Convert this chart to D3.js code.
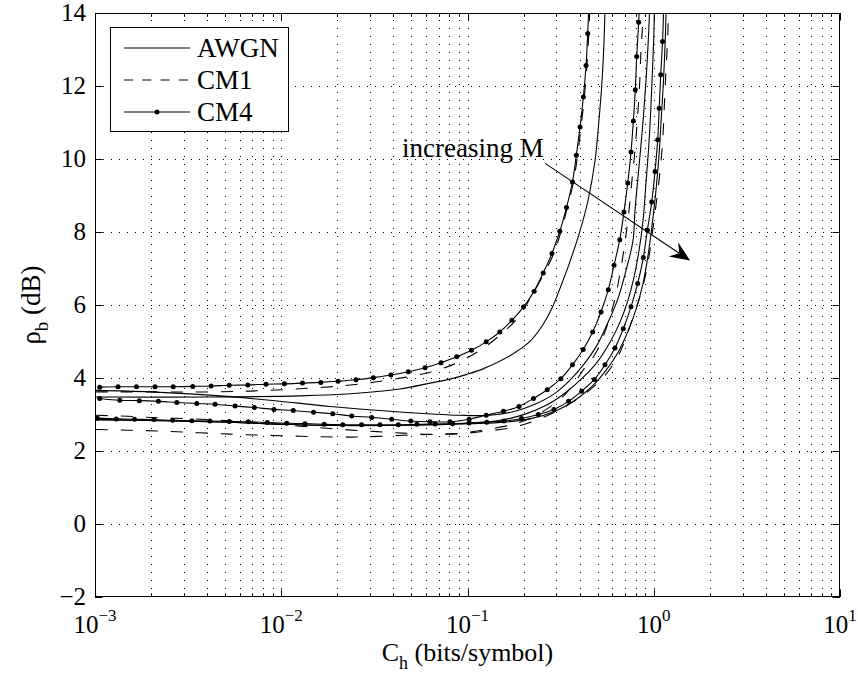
<!DOCTYPE html>
<html><head><meta charset="utf-8">
<script src="https://cdn.jsdelivr.net/npm/d3@7"></script>
<style>
body{margin:0;background:#fff;}
svg text{font-family:"Liberation Serif","Times New Roman",Times,serif;fill:#000;}
</style></head><body>
<svg id="chart" width="858" height="678" font-family="Liberation Serif"></svg>
<script>
// ---- axes / ticks ----
const xDomain = [1e-3, 10];
const yDomain = [-2, 14];
const yTicks = [-2, 0, 2, 4, 6, 8, 10, 12, 14];
const yTickLabels = ["\u22122", "0", "2", "4", "6", "8", "10", "12", "14"];
const xTickExps = [-3, -2, -1, 0, 1];
const xTickExpLabels = ["\u22123", "\u22122", "\u22121", "0", "1"];
const legendNames = ["AWGN", "CM1", "CM4"];

// ---- curves: C_h (bits/symbol) and rho_b (dB) ----
// group 1 (smallest M)
const g1CM4C = [1.06e-3,1.33e-3,1.67e-3,2.10e-3,2.63e-3,3.35e-3,4.20e-3,5.26e-3,6.61e-3,8.28e-3,1.04e-2,1.30e-2,1.63e-2,2.02e-2,2.52e-2,3.12e-2,3.88e-2,4.81e-2,5.91e-2,7.21e-2,8.75e-2,0.105,0.126,0.149,0.173,0.200,0.228,0.255,0.284,0.313,0.340,0.366,0.384,0.402,0.419,0.433,0.442,0.449];
const g1CM4R = [3.75,3.76,3.76,3.76,3.76,3.77,3.78,3.80,3.81,3.83,3.84,3.86,3.88,3.91,3.95,4.01,4.08,4.17,4.28,4.42,4.58,4.76,4.99,5.26,5.58,5.95,6.38,6.88,7.41,8.02,8.67,9.37,10.10,10.88,11.70,12.56,13.44,14.3];
const g1CM1C = [1.01e-3,1.97e-3,4.41e-3,8.39e-3,1.61e-2,2.28e-2,3.19e-2,4.51e-2,6.29e-2,8.47e-2,0.117,0.153,0.187,0.217,0.261,0.291,0.318,0.344,0.371,0.390,0.407,0.424,0.438,0.448,0.455];
const g1CM1R = [3.62,3.62,3.62,3.66,3.74,3.80,3.89,4.01,4.16,4.38,4.76,5.22,5.66,6.18,6.92,7.42,8.02,8.68,9.38,10.10,10.88,11.70,12.57,13.44,14.29];
const g1AWC = [1.01e-3,4.14e-3,1.26e-2,2.65e-2,4.34e-2,6.29e-2,8.05e-2,9.94e-2,0.121,0.169,0.217,0.254,0.284,0.314,0.351,0.397,0.444,0.484,0.508,0.528,0.541,0.547,0.548];
const g1AWR = [3.48,3.48,3.51,3.59,3.70,3.86,3.97,4.10,4.25,4.61,5.01,5.46,5.91,6.46,7.12,7.94,8.87,9.96,11.06,12.16,13.25,14.07,14.35];
// group 2
const g2CM4C = [1.06e-3,1.36e-3,1.73e-3,2.19e-3,2.75e-3,3.52e-3,4.41e-3,5.65e-3,7.17e-3,9.14e-3,1.16e-2,1.49e-2,1.89e-2,2.39e-2,3.06e-2,3.92e-2,4.96e-2,6.29e-2,8.05e-2,0.102,0.126,0.156,0.189,0.226,0.268,0.317,0.366,0.418,0.470,0.521,0.570,0.612,0.657,0.692,0.725,0.755,0.777,0.796,0.810,0.830,0.844];
const g2CM4R = [3.44,3.39,3.38,3.36,3.33,3.30,3.28,3.23,3.19,3.14,3.11,3.06,3.02,2.96,2.92,2.87,2.82,2.80,2.80,2.87,2.98,3.09,3.22,3.44,3.68,3.98,4.36,4.78,5.26,5.81,6.42,7.09,7.79,8.55,9.34,10.19,11.04,11.90,12.81,13.75,14.68];
const g2CM1C = [1.01e-3,1.50e-3,2.15e-3,2.97e-3,4.14e-3,7.69e-3,1.26e-2,2.28e-2,3.27e-2,4.51e-2,6.29e-2,8.89e-2,0.124,0.176,0.217,0.261,0.314,0.364,0.417,0.484,0.541,0.612,0.659,0.697,0.732,0.764,0.793,0.816,0.837,0.852,0.874,0.884];
const g2CM1R = [2.98,2.95,2.91,2.89,2.86,2.77,2.68,2.58,2.53,2.49,2.46,2.48,2.58,2.73,2.90,3.12,3.42,3.77,4.21,4.65,5.20,6.07,6.87,7.64,8.46,9.42,10.24,11.06,11.88,12.84,13.80,14.35];
const g2AWC = [1.01e-3,1.97e-3,4.14e-3,8.70e-3,1.83e-2,4.34e-2,9.12e-2,0.132,0.180,0.230,0.295,0.355,0.422,0.496,0.575,0.643,0.710,0.774,0.793,0.818,0.849,0.881,0.909,0.932,0.947,0.949];
const g2AWR = [3.66,3.62,3.53,3.39,3.22,3.07,2.98,2.98,3.09,3.28,3.58,3.94,4.38,4.90,5.58,6.18,6.95,7.77,8.59,9.36,10.24,11.20,12.16,13.12,13.94,14.35];
// group 3 (largest M)
const g3CM4C = [1.03e-3,1.30e-3,1.63e-3,2.07e-3,2.61e-3,3.31e-3,4.14e-3,5.26e-3,6.65e-3,8.42e-3,1.07e-2,1.34e-2,1.70e-2,2.14e-2,2.70e-2,3.39e-2,4.25e-2,5.34e-2,6.69e-2,8.33e-2,0.102,0.127,0.157,0.195,0.240,0.291,0.349,0.410,0.480,0.547,0.619,0.686,0.755,0.820,0.879,0.924,0.975,1.016,1.05,1.07,1.09,1.115,1.13];
const g3CM4R = [2.90,2.88,2.87,2.86,2.84,2.83,2.82,2.81,2.80,2.78,2.76,2.75,2.73,2.72,2.72,2.72,2.72,2.73,2.74,2.75,2.77,2.79,2.82,2.89,3.00,3.14,3.36,3.64,3.96,4.36,4.82,5.35,5.95,6.59,7.30,8.05,8.82,9.66,10.53,11.39,12.31,13.22,14.13];
const g3CM1C = [1.01e-3,1.50e-3,2.15e-3,2.97e-3,4.41e-3,6.01e-3,8.39e-3,1.16e-2,1.61e-2,2.31e-2,3.27e-2,4.51e-2,6.29e-2,8.89e-2,0.124,0.176,0.242,0.330,0.438,0.547,0.635,0.701,0.764,0.849,0.926,0.979,1.028,1.075,1.117,1.14,1.163,1.189,1.203];
const g3CM1R = [2.59,2.57,2.55,2.52,2.48,2.45,2.43,2.41,2.39,2.38,2.40,2.43,2.45,2.47,2.54,2.65,2.87,3.20,3.61,4.07,4.54,5.03,5.58,6.27,7.09,7.91,8.73,9.55,10.51,11.47,12.43,13.39,14.35];
const g3AWC = [1.01e-3,4.14e-3,1.83e-2,6.29e-2,0.103,0.159,0.217,0.295,0.378,0.466,0.554,0.643,0.727,0.803,0.876,0.932,0.979,1.028,1.067,1.10,1.128,1.15,1.163,1.165];
const g3AWR = [2.86,2.80,2.70,2.72,2.75,2.79,2.88,3.09,3.39,3.77,4.21,4.70,5.28,5.88,6.59,7.36,8.18,9.14,10.10,11.20,12.16,13.12,13.94,14.35];
// extra solid curve branching from the group-3 bundle
const g3bAWC = [1.01e-3,4.14e-3,1.83e-2,6.29e-2,0.103,0.150,0.204,0.271,0.338,0.412,0.496,0.582,0.659,0.727,0.783,0.834,0.876,0.909,0.937,0.961,0.979,0.997,1.007,1.008];
const g3bAWR = [2.86,2.80,2.70,2.72,2.76,2.84,3.01,3.28,3.61,3.99,4.43,4.98,5.53,6.13,6.76,7.50,8.32,9.36,10.24,11.20,12.16,13.12,13.94,14.35];

// annotation
const annText = "increasing M";
const annTextPos = [0.0445, 10.05];
const annArrowFrom = [0.261, 9.88];
const annArrowTo = [1.566, 7.22];

// ---- layout ----
const FONT = "'Liberation Serif', 'Times New Roman', serif";
const L = 95, R = 840, T = 13, B = 597;
const svg = d3.select("#chart");
const x = d3.scaleLog().domain(xDomain).range([L, R]);
const y = d3.scaleLinear().domain(yDomain).range([B, T]);

svg.append("rect").attr("width",858).attr("height",678).attr("fill","#fff");
svg.append("defs").append("clipPath").attr("id","clip")
  .append("rect").attr("x",L).attr("y",T).attr("width",R-L).attr("height",B-T);

// grid
const minorVals = [];
for (let e = -3; e <= 0; e++) for (let k = 1; k <= 9; k++) minorVals.push(k*Math.pow(10,e));
minorVals.push(10);
const grid = svg.append("g").attr("stroke","#000").attr("stroke-width",1).attr("stroke-dasharray","1,7").attr("fill","none");
minorVals.filter(v => v > 1.0001e-3 && v < 9.999).forEach(v => {
  const px = Math.round(x(v)) + 0.5;
  grid.append("line").attr("x1",px).attr("x2",px).attr("y1",B).attr("y2",T);
});
yTicks.filter(v => v > yDomain[0] && v < yDomain[1]).forEach(v => {
  const py = Math.round(y(v)) + 0.5;
  grid.append("line").attr("x1",L).attr("x2",R).attr("y1",py).attr("y2",py);
});

// ticks
const tk = svg.append("g").attr("stroke","#000").attr("stroke-width",1);
const majLen = 7.5, minLen = 3.8;
minorVals.forEach(v => {
  const isMaj = Math.abs(Math.log10(v) - Math.round(Math.log10(v))) < 1e-9;
  const len = isMaj ? majLen : minLen;
  const px = Math.round(x(v)) + 0.5;
  tk.append("line").attr("x1",px).attr("x2",px).attr("y1",B).attr("y2",B-len);
  tk.append("line").attr("x1",px).attr("x2",px).attr("y1",T).attr("y2",T+len);
});
yTicks.forEach(v => {
  const py = Math.round(y(v)) + 0.5;
  tk.append("line").attr("x1",L).attr("x2",L+majLen).attr("y1",py).attr("y2",py);
  tk.append("line").attr("x1",R).attr("x2",R-majLen).attr("y1",py).attr("y2",py);
});

// curves
const clipG = svg.append("g").attr("clip-path","url(#clip)");
const line = d3.line().x(d => x(d[0])).y(d => y(d[1])).curve(d3.curveCatmullRom.alpha(0.5));
function zip(a, b){ return a.map((v,i) => [v, b[i]]); }
const curves = [
  {c:g1AWC, r:g1AWR, type:"AWGN"}, {c:g1CM1C, r:g1CM1R, type:"CM1"}, {c:g1CM4C, r:g1CM4R, type:"CM4"},
  {c:g2AWC, r:g2AWR, type:"AWGN"}, {c:g2CM1C, r:g2CM1R, type:"CM1"}, {c:g2CM4C, r:g2CM4R, type:"CM4"},
  {c:g3AWC, r:g3AWR, type:"AWGN"}, {c:g3bAWC, r:g3bAWR, type:"AWGN"},
  {c:g3CM1C, r:g3CM1R, type:"CM1"}, {c:g3CM4C, r:g3CM4R, type:"CM4"}
];
curves.forEach(cv => {
  const pts = zip(cv.c, cv.r);
  clipG.append("path").attr("d", line(pts)).attr("fill","none").attr("stroke","#000")
    .attr("stroke-width",1.1)
    .attr("stroke-dasharray", cv.type === "CM1" ? "12,13" : null);
  if (cv.type === "CM4") {
    clipG.selectAll(null).data(pts.filter(p => p[1] <= yDomain[1])).enter().append("circle")
      .attr("cx", d => x(d[0])).attr("cy", d => y(d[1])).attr("r", 2.5).attr("fill","#000");
  }
});

// box
svg.append("rect").attr("x",L+0.5).attr("y",T+0.5).attr("width",R-L-1).attr("height",B-T-1)
  .attr("fill","none").attr("stroke","#000").attr("stroke-width",1);

// tick labels
const fs = 25;
yTicks.forEach((v,i) => {
  svg.append("text").attr("font-family", FONT).attr("x", L-9).attr("y", y(v)+8).attr("text-anchor","end")
    .attr("font-size", fs).text(yTickLabels[i]);
});
xTickExps.forEach((e,i) => {
  const t = svg.append("text").attr("font-family", FONT).attr("x", x(Math.pow(10,e))).attr("y", B+36)
    .attr("text-anchor","middle").attr("font-size", fs);
  t.append("tspan").text("10");
  t.append("tspan").attr("font-size", 17).attr("dy", -12).text(xTickExpLabels[i]);
});

// axis labels
const xl = svg.append("text").attr("font-family", FONT).attr("x", (L+R)/2).attr("y", 661)
  .attr("text-anchor","middle").attr("font-size", 26);
xl.append("tspan").text("C");
xl.append("tspan").attr("font-size",18).attr("dy",8).text("h");
xl.append("tspan").attr("dy",-8).text(" (bits/symbol)");
const yl = svg.append("text").attr("font-family", FONT).attr("transform", `translate(40,${(T+B)/2}) rotate(-90)`)
  .attr("text-anchor","middle").attr("font-size", 27);
yl.append("tspan").text("\u03C1");
yl.append("tspan").attr("font-size",19).attr("dy",8).text("b");
yl.append("tspan").attr("dy",-8).text(" (dB)");

// annotation
svg.append("text").attr("font-family", FONT).attr("x", x(annTextPos[0])).attr("y", y(annTextPos[1]))
  .attr("font-size", 27).text(annText);
const ax0 = x(annArrowFrom[0]), ay0 = y(annArrowFrom[1]);
const ax1 = x(annArrowTo[0]), ay1 = y(annArrowTo[1]);
const dx = ax1-ax0, dy = ay1-ay0, dl = Math.hypot(dx,dy);
const ux = dx/dl, uy = dy/dl, nx = -uy, ny = ux;
const hl = 20, hw = 8.5, notch = 13;
svg.append("line").attr("x1",ax0).attr("y1",ay0).attr("x2",ax1-ux*notch).attr("y2",ay1-uy*notch)
  .attr("stroke","#000").attr("stroke-width",1.1);
svg.append("path").attr("d", `M${ax1},${ay1} L${ax1-ux*hl+nx*hw},${ay1-uy*hl+ny*hw} L${ax1-ux*notch},${ay1-uy*notch} L${ax1-ux*hl-nx*hw},${ay1-uy*hl-ny*hw} Z`)
  .attr("fill","#000");

// legend
const lg = svg.append("g");
lg.append("rect").attr("x",110.5).attr("y",27.5).attr("width",178).attr("height",104)
  .attr("fill","#fff").attr("stroke","#000").attr("stroke-width",1);
legendNames.forEach((n,i) => {
  const ly = 48 + i*32;
  lg.append("line").attr("x1",124).attr("x2",190).attr("y1",ly).attr("y2",ly)
    .attr("stroke","#000").attr("stroke-width",1.1)
    .attr("stroke-dasharray", n === "CM1" ? "9,9.3" : null);
  if (n === "CM4") lg.append("circle").attr("cx",157).attr("cy",ly).attr("r",2.5).attr("fill","#000");
  lg.append("text").attr("font-family", FONT).attr("x",197).attr("y",ly+9).attr("font-size",27).text(n);
});
</script>
</body></html>
